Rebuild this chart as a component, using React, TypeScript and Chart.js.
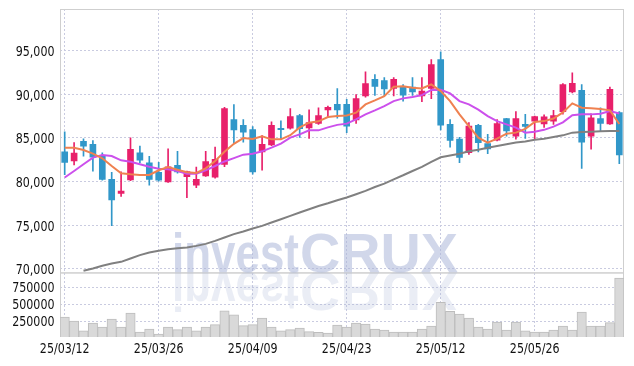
import React, { useEffect, useRef } from 'react';
import { Chart, registerables } from 'chart.js';

Chart.register(...registerables);

const dates = [
  '25/03/12', '25/03/13', '25/03/14', '25/03/17', '25/03/18', '25/03/19', '25/03/20', '25/03/21', '25/03/24', '25/03/25',
  '25/03/26', '25/03/27', '25/03/28', '25/03/31', '25/04/01', '25/04/02', '25/04/03', '25/04/04', '25/04/07', '25/04/08',
  '25/04/09', '25/04/10', '25/04/11', '25/04/14', '25/04/15', '25/04/16', '25/04/17', '25/04/18', '25/04/21', '25/04/22',
  '25/04/23', '25/04/24', '25/04/25', '25/04/28', '25/04/29', '25/04/30', '25/05/02', '25/05/07', '25/05/08', '25/05/09',
  '25/05/12', '25/05/13', '25/05/14', '25/05/15', '25/05/16', '25/05/19', '25/05/20', '25/05/21', '25/05/22', '25/05/23',
  '25/05/26', '25/05/27', '25/05/28', '25/05/29', '25/05/30', '25/06/02', '25/06/04', '25/06/05', '25/06/09', '25/06/10',
];

const openPrices = [
  83400, 82350, 84600, 84250, 83000, 80250, 78650, 80200, 83300, 82150,
  81050, 79950, 81850, 80550, 79600, 80650, 80500, 81950, 87100, 86450,
  85950, 83400, 84200, 86100, 86100, 87550, 86150, 86650, 88200, 88850,
  88850, 87050, 89800, 91700, 91550, 90650, 90800, 90800, 89800, 90650,
  93950, 86550, 84850, 83300, 86450, 84350, 84750, 87200, 85200, 86550,
  86900, 86600, 86900, 88000, 90250, 90450, 85200, 87200, 86600, 87900,
];
const highPrices = [
  85700, 84450, 84900, 84700, 83300, 81050, 81100, 85000, 84050, 82900,
  82200, 83750, 83450, 81200, 81650, 83450, 83950, 88500, 88800, 87100,
  86300, 85250, 86850, 86950, 88350, 87700, 88200, 88450, 88650, 90650,
  89400, 89950, 92550, 92250, 91900, 91900, 91100, 91900, 91900, 93950,
  94850, 87100, 85050, 86750, 86550, 85400, 87100, 87250, 88000, 87700,
  87500, 87650, 88150, 91200, 92450, 91100, 87750, 88450, 90800, 88000,
];
const lowPrices = [
  80800, 81900, 82900, 81200, 80150, 74950, 78300, 80100, 82150, 79600,
  80050, 79900, 80950, 78150, 79300, 80600, 80400, 81700, 84350, 84500,
  80850, 81300, 84100, 84850, 86000, 85050, 84950, 86550, 87300, 87250,
  85600, 86650, 89650, 89850, 89800, 89800, 89200, 89850, 89150, 89500,
  85900, 83950, 82150, 83100, 83400, 83200, 84650, 85200, 84850, 84950,
  84850, 86200, 86550, 87700, 90150, 81500, 83700, 85800, 86550, 82050,
];
const closePrices = [
  82200, 83250, 84050, 82800, 80250, 77900, 78900, 83700, 82450, 80250,
  80150, 81700, 81100, 81150, 80250, 82300, 82550, 88350, 85900, 85650,
  81100, 84250, 86450, 85950, 87450, 86050, 86750, 87550, 88500, 88200,
  86350, 89500, 91200, 90900, 90600, 91700, 89900, 90250, 90350, 93400,
  86450, 84700, 82750, 86350, 84450, 83750, 86650, 85800, 87200, 86300,
  87450, 87400, 87550, 91100, 91250, 84500, 87300, 86650, 90550, 83050,
];
const volumes = [
  322000, 264000, 124000, 235000, 178000, 293000, 178000, 380000, 105000, 149000,
  77000, 178000, 139000, 178000, 124000, 178000, 211000, 413000, 355000, 197000,
  211000, 308000, 178000, 124000, 139000, 163000, 110000, 100000, 91000, 207000,
  178000, 235000, 221000, 149000, 134000, 105000, 105000, 105000, 149000, 192000,
  533000, 403000, 366000, 308000, 178000, 149000, 250000, 134000, 250000, 124000,
  105000, 105000, 134000, 192000, 134000, 395000, 192000, 192000, 240000, 886000,
];
const maShort = [
  83880, 83880, 83610, 83200, 82660, 81780, 80950, 80830, 80750, 80750,
  81290, 81670, 81350, 81060, 80980, 81520, 82350, 83400, 84320, 84980,
  84870, 85170, 84830, 84830, 85310, 86200, 86740, 86890, 87380, 87490,
  87570, 87880, 88830, 89290, 89780, 90850, 90920, 90740, 90660, 91120,
  90350, 89210, 87690, 86350, 85030, 84460, 84910, 85480, 85600, 86030,
  86830, 86920, 87210, 87920, 88950, 88450, 88400, 88310, 88150, 86590,
];
const maMid = [
  80460, 81210, 81980, 82740, 83030, 82920, 82430, 82260, 81980, 81690,
  81460, 81400, 81210, 80890, 80890, 81290, 81780, 82300, 82680, 83080,
  83180, 83460, 83880, 84350, 85030, 85400, 85860, 85860, 86200, 86490,
  86630, 87120, 87690, 88150, 88640, 89210, 89520, 89670, 89890, 90490,
  90510, 90090, 89210, 88830, 88230, 87490, 86920, 86550, 86170, 85600,
  85690, 85920, 86290, 86770, 87600, 87690, 87690, 87770, 88070, 87780,
];
const maLong = [
  null, null, 69790, 70060, 70360, 70630, 70810, 71200, 71580, 71890,
  72070, 72260, 72380, 72460, 72640, 72870, 73210, 73600, 73980, 74290,
  74630, 74930, 75320, 75690, 76070, 76460, 76830, 77210, 77520, 77860,
  78170, 78550, 78930, 79380, 79770, 80260, 80720, 81210, 81670, 82260,
  82780, 82980, 83180, 83460, 83630, 83860, 84070, 84260, 84460, 84580,
  84780, 84910, 85100, 85290, 85600, 85670, 85710, 85750, 85780, 85780,
];
const priceTicks = [70000, 75000, 80000, 85000, 90000, 95000];
const volumeTicks = [250000, 500000, 750000];
const xTickEvery = 10;
const watermarkParts = ['invest', 'CRUX'];

const UP = '#e8206a';
const DOWN = '#3197c9';
const GRID = '#c9cbe0';
const FRAME = '#cfcfcf';
const LABEL_FONT = '13.5px "DejaVu Sans", sans-serif';
const LABEL_SQUEEZE = 0.82;

function squeezedText(ctx: CanvasRenderingContext2D, text: string, x: number, y: number, align: CanvasTextAlign) {
  ctx.save();
  ctx.translate(x, y);
  ctx.scale(LABEL_SQUEEZE, 1);
  ctx.textAlign = align;
  ctx.fillText(text, 0, 0);
  ctx.restore();
}

function fitText(ctx: CanvasRenderingContext2D, text: string, x: number, y: number, width: number, sy: number) {
  const w = ctx.measureText(text).width;
  ctx.save();
  ctx.translate(x, y);
  ctx.scale(width / w, sy);
  ctx.fillText(text, 0, 0);
  ctx.restore();
}

function drawWatermark(ctx: CanvasRenderingContext2D, baseY: number) {
  fitText(ctx, watermarkParts[0], 172, baseY, 127, 1.08);
  fitText(ctx, watermarkParts[1], 300, baseY, 158, 1.08);
}

const framePlugin = {
  id: 'frame',
  beforeDatasetsDraw(chart: any) {
    const { ctx, chartArea } = chart;
    const y = chart.scales.y;
    const v = chart.scales.v;
    ctx.save();
    ctx.strokeStyle = FRAME;
    ctx.lineWidth = 1;
    ctx.strokeRect(chartArea.left + 0.5, y.top + 0.5, chartArea.right - chartArea.left - 1, y.bottom - y.top);
    ctx.strokeRect(chartArea.left + 0.5, v.top + 0.5, chartArea.right - chartArea.left - 1, v.bottom - v.top - 1);
    const baseY = y.bottom;
    ctx.font = 'bold 52px "Liberation Sans", Arial, sans-serif';
    ctx.textBaseline = 'alphabetic';
    ctx.textAlign = 'left';
    ctx.fillStyle = 'rgba(172,182,216,0.55)';
    drawWatermark(ctx, baseY);
    ctx.translate(0, baseY * 2);
    ctx.scale(1, -1);
    ctx.fillStyle = 'rgba(172,182,216,0.25)';
    drawWatermark(ctx, baseY);
    ctx.restore();
  },
  afterDraw(chart: any) {
    const { ctx } = chart;
    const x = chart.scales.x;
    const y = chart.scales.y;
    const v = chart.scales.v;
    ctx.save();
    ctx.font = LABEL_FONT;
    ctx.fillStyle = '#111';
    ctx.textBaseline = 'middle';
    priceTicks.forEach((t) => squeezedText(ctx, t.toLocaleString('en-US'), 54.5, y.getPixelForValue(t) + 2, 'right'));
    volumeTicks.forEach((t) => squeezedText(ctx, String(t), 54.5, v.getPixelForValue(t) + 1, 'right'));
    dates.forEach((d, i) => {
      if (i % xTickEvery === 0) squeezedText(ctx, d, x.getPixelForValue(i), 349, 'center');
    });
    ctx.restore();
  },
};

export default function App() {
  const ref = useRef<HTMLCanvasElement>(null);
  useEffect(() => {
    const canvas = ref.current;
    if (!canvas) return;
    const colors = closePrices.map((c, i) => (c >= openPrices[i] ? UP : DOWN));
    const bodies = openPrices.map((o, i) => [Math.min(o, closePrices[i]), Math.max(o, closePrices[i])]);
    const wicks = lowPrices.map((l, i) => [l, highPrices[i]]);
    const chart = new Chart(canvas, {
      type: 'bar',
      data: {
        labels: dates,
        datasets: [
          { type: 'line', data: maShort, yAxisID: 'y', borderColor: '#ef8150', borderWidth: 2, pointRadius: 0, order: 0 } as any,
          { type: 'line', data: maMid, yAxisID: 'y', borderColor: '#cc50ec', borderWidth: 2, pointRadius: 0, order: 0 } as any,
          { type: 'line', data: maLong, yAxisID: 'y', borderColor: '#808080', borderWidth: 2, pointRadius: 0, order: 0 } as any,
          { type: 'bar', data: bodies, yAxisID: 'y', backgroundColor: colors, barThickness: 6, grouped: false, order: 1 } as any,
          { type: 'bar', data: wicks, yAxisID: 'y', backgroundColor: colors, barThickness: 1, grouped: false, order: 2 } as any,
          {
            type: 'bar', data: volumes, yAxisID: 'v', backgroundColor: '#d9d9d9', borderColor: '#bdbdbd', borderWidth: 1,
            categoryPercentage: 1, barPercentage: 1, grouped: false, order: 3,
          } as any,
        ],
      },
      options: {
        animation: false,
        responsive: true,
        maintainAspectRatio: false,
        layout: { padding: { top: 9, right: 10, left: 0, bottom: 0 } },
        plugins: { legend: { display: false }, tooltip: { enabled: false } },
        scales: {
          x: {
            type: 'category',
            offset: true,
            afterBuildTicks: (scale: any) => {
              scale.ticks = scale.ticks.filter((t: any) => t.value % xTickEvery === 0);
            },
            afterFit: (scale: any) => { scale.height = 29; },
            grid: { offset: false, color: GRID, drawTicks: false },
            border: { display: false, dash: [2, 2] },
            ticks: { display: false, autoSkip: false },
          },
          y: {
            type: 'linear',
            position: 'left',
            stack: 'main',
            stackWeight: 4.08,
            weight: 2,
            min: 69600,
            max: 99750,
            afterBuildTicks: (scale: any) => { scale.ticks = priceTicks.map((t) => ({ value: t })); },
            afterFit: (scale: any) => { scale.width = 60; },
            grid: { color: GRID, drawTicks: false },
            border: { display: false, dash: [2, 2] },
            ticks: { display: false },
          },
          v: {
            type: 'linear',
            position: 'left',
            stack: 'main',
            stackWeight: 1,
            weight: 1,
            min: 33000,
            max: 967000,
            afterBuildTicks: (scale: any) => { scale.ticks = volumeTicks.map((t) => ({ value: t })); },
            afterFit: (scale: any) => { scale.width = 60; },
            grid: { color: GRID, drawTicks: false },
            border: { display: false, dash: [2, 2] },
            ticks: { display: false },
          },
        },
      } as any,
      plugins: [framePlugin],
    });
    return () => chart.destroy();
  }, []);
  return (
    <div style={{ position: 'absolute', left: 0, top: 0, width: 634, height: 366 }}>
      <canvas ref={ref} />
    </div>
  );
}
